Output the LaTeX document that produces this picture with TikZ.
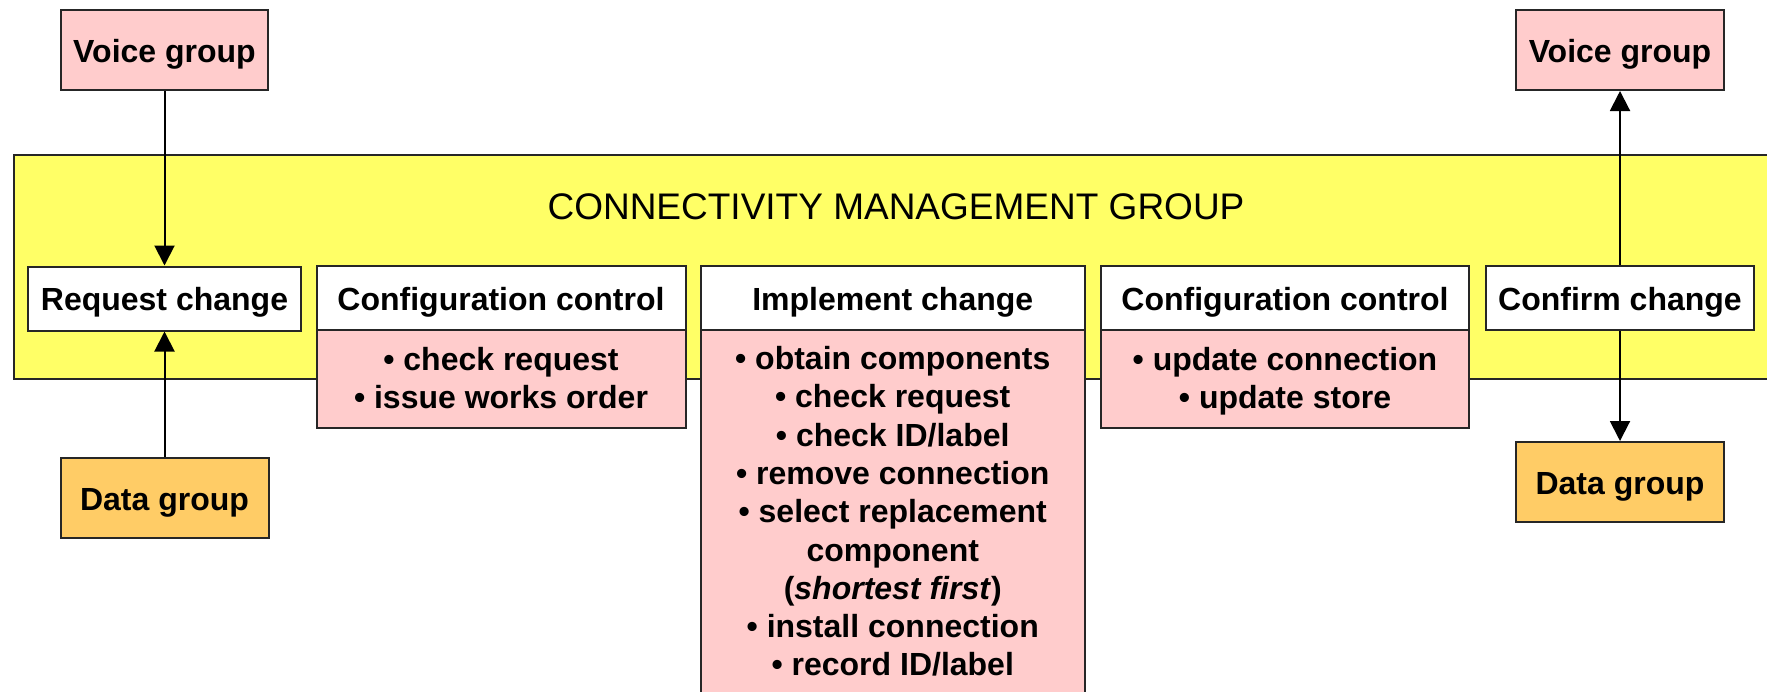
\documentclass[tikz,border=0pt]{standalone}
\usepackage{fontspec}
\setmainfont{Liberation Sans}
\usetikzlibrary{arrows.meta}
\definecolor{cmgyellow}{HTML}{FFFF66}
\definecolor{cmgpink}{HTML}{FFCCCC}
\definecolor{cmgorange}{HTML}{FFCC66}
\definecolor{cmgline}{HTML}{262626}
\begin{document}
\begin{tikzpicture}[x=1pt,y=-1pt,
  frame/.style={draw=cmgline, line width=2pt, inner sep=0pt},
  box/.style={frame, font=\fontsize{32}{38.3}\selectfont\bfseries, text height=31pt, text depth=7pt},
  bodytext/.style={inner sep=0pt, align=center, anchor=north, font=\fontsize{32}{38.3}\selectfont\bfseries},
  pinkbox/.style={box, fill=cmgpink},
  orangebox/.style={box, fill=cmgorange},
  whitebox/.style={box, fill=white},
  arr/.style={-{Triangle[width=20pt,length=20pt]}, line width=2pt, draw=black}
]
\useasboundingbox (0,0) rectangle (1767,691);
\fill[white] (0,0) rectangle (1767,691);

% group band
\node[frame, fill=cmgyellow, anchor=north west, minimum width=1770, minimum height=224] (cmg) at (13,154) {};
\node[anchor=base, inner sep=0pt, font=\fontsize{37}{44}\selectfont] (title) at (896,219) {CONNECTIVITY MANAGEMENT GROUP};

% outside groups
\node[pinkbox, minimum width=207, minimum height=80] (vl) at (164.5,50) {Voice group};
\node[orangebox, minimum width=208, minimum height=80] (dl) at (164.5,498) {Data group};
\node[pinkbox, minimum width=208, minimum height=80] (vr) at (1620,50) {Voice group};
\node[orangebox, minimum width=208, minimum height=80] (dr) at (1620,482) {Data group};

% process steps
\node[whitebox, minimum width=273, minimum height=64] (rq) at (164.5,298.5) {Request change};

\node[frame, fill=cmgpink, minimum width=369, minimum height=98] (cc1b) at (501,379) {};
\node[whitebox, minimum width=369, minimum height=64] (cc1h) at (501,298) {Configuration control};
\node[bodytext] (cc1t) at (501,343.5) {\strut• check request\\\strut• issue works order};

\node[frame, fill=cmgpink, minimum width=384.5, minimum height=380] (imb) at (892.75,520) {};
\node[whitebox, minimum width=384.5, minimum height=64] (imh) at (892.75,298) {Implement change};
\node[bodytext] (imt) at (892.75,342.5) {\strut• obtain components\\\strut• check request\\\strut• check ID/label\\\strut• remove connection\\\strut• select replacement\\\strut component\\\strut(\textit{shortest first})\\\strut• install connection\\\strut• record ID/label};

\node[frame, fill=cmgpink, minimum width=368, minimum height=98] (cc2b) at (1285,379) {};
\node[whitebox, minimum width=368, minimum height=64] (cc2h) at (1285,298) {Configuration control};
\node[bodytext] (cc2t) at (1285,343.5) {\strut• update connection\\\strut• update store};

\node[whitebox, minimum width=268, minimum height=64] (cf) at (1620,298) {Confirm change};

% connectors
\draw[arr] (vl) -- (rq);
\draw[arr] (dl) -- (rq);
\draw[arr] (cf) -- (vr);
\draw[arr] (cf) -- (dr);
\end{tikzpicture}
\end{document}
